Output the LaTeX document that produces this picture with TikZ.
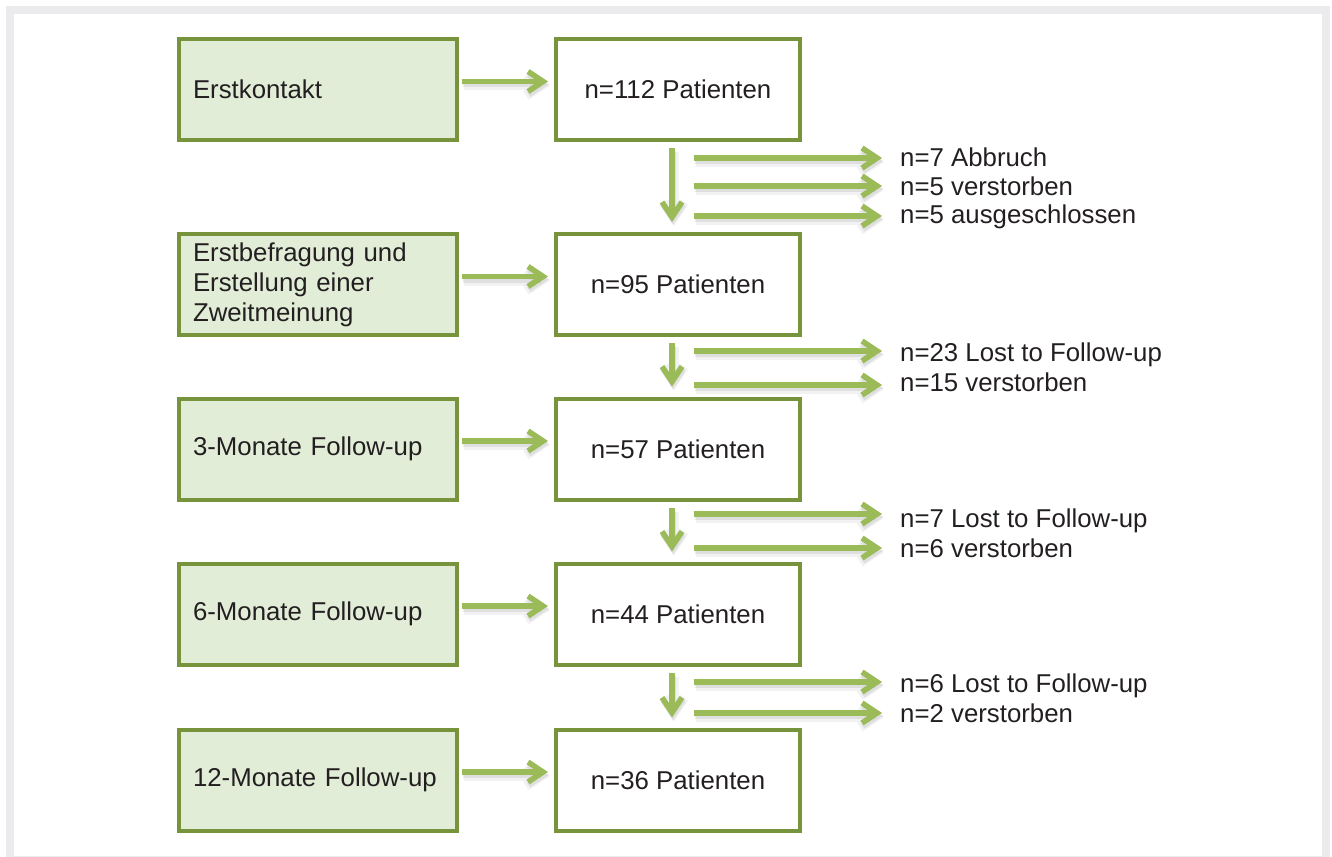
\documentclass[tikz,border=0pt]{standalone}
\usepackage{fontspec}
\setmainfont{Liberation Sans}
\usetikzlibrary{arrows.meta}
\definecolor{boxborder}{HTML}{77933C}
\definecolor{boxfill}{HTML}{E2EDD8}
\definecolor{arrowgreen}{HTML}{9BBB59}
\definecolor{framegray}{HTML}{EBEBED}
\definecolor{textdark}{HTML}{231F20}
\begin{document}
\begin{tikzpicture}[x=1pt,y=-1pt,
  font=\fontsize{25.8}{30}\selectfont, text=textdark,
  leftbox/.style={draw=boxborder, fill=boxfill, line width=4pt, minimum width=278pt,
    minimum height=101pt, text width=250pt, align=left, inner sep=0pt},
  rightbox/.style={draw=boxborder, fill=white, line width=4pt, minimum width=244pt,
    minimum height=101pt, align=center, inner sep=0pt},
  exlabel/.style={anchor=base west, inner sep=0pt},
  arr/.style={draw=arrowgreen, line width=5.5pt,
    -{Straight Barb[length=15pt,width=20pt]},
    preaction={draw=black, line width=10pt, opacity=0.05, transform canvas={xshift=2pt,yshift=-4pt}},
    preaction={draw=black, line width=6pt, opacity=0.08, transform canvas={xshift=1pt,yshift=-3pt}}}
]
\useasboundingbox (0,0) rectangle (1332,856);
\draw[framegray, line width=8pt] (10,10) rectangle (1326,860);

% boxes
\node[leftbox] (L1) at (318,89.5) {Erstkontakt};
\node[rightbox] (R1) at (678,89.5) {n=112 Patienten};
\node[leftbox] (L2) at (318,284.5) {Erstbefragung und\\Erstellung einer\\Zweitmeinung};
\node[rightbox] (R2) at (678,284.5) {n=95 Patienten};
\node[leftbox] (L3) at (318,449) {3-Monate Follow-up};
\node[rightbox] (R3) at (678,449) {n=57 Patienten};
\node[leftbox] (L4) at (318,614) {6-Monate Follow-up};
\node[rightbox] (R4) at (678,614) {n=44 Patienten};
\node[leftbox] (L5) at (318,780) {12-Monate Follow-up};
\node[rightbox] (R5) at (678,780) {n=36 Patienten};

% horizontal arrows
\foreach \i in {1,...,5}{
  \draw[arr] ([xshift=3pt,yshift=8pt]L\i.east) -- ([xshift=-6pt,yshift=8pt]R\i.west);
}

% vertical arrows
\foreach \i/\j in {1/2,2/3,3/4,4/5}{
  \draw[arr] ([xshift=-6pt,yshift=-6pt]R\i.south) -- ([xshift=-6pt,yshift=10pt]R\j.north);
}

% exclusion labels
\node[exlabel] (e1a) at (900,166.5) {n=7 Abbruch};
\node[exlabel] (e1b) at (900,195) {n=5 verstorben};
\node[exlabel] (e1c) at (900,223.5) {n=5 ausgeschlossen};
\node[exlabel] (e2a) at (900,361.5) {n=23 Lost to Follow-up};
\node[exlabel] (e2b) at (900,391.5) {n=15 verstorben};
\node[exlabel] (e3a) at (900,527) {n=7 Lost to Follow-up};
\node[exlabel] (e3b) at (900,557) {n=6 verstorben};
\node[exlabel] (e4a) at (900,692) {n=6 Lost to Follow-up};
\node[exlabel] (e4b) at (900,722) {n=2 verstorben};

% exclusion arrows
\foreach \n/\y in {1a/158,1b/186,1c/216,2a/351,2b/385,3a/514,3b/548,4a/682,4b/713}{
  \coordinate (s\n) at (694,\y);
  \coordinate (t\n) at (882,\y);
  \draw[arr] (s\n) -- (t\n);
}
\end{tikzpicture}
\end{document}
